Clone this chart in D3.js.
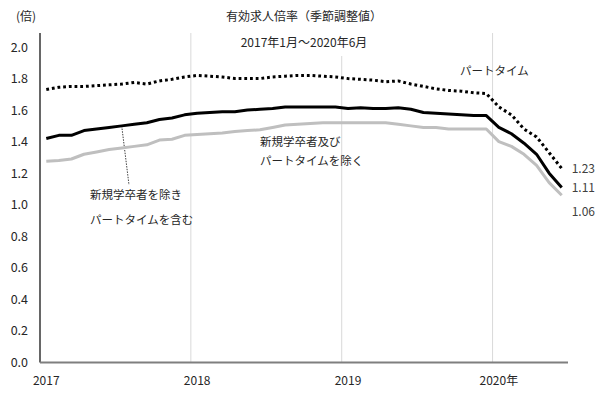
<!DOCTYPE html>
<html><head><meta charset="utf-8">
<script src="https://cdn.jsdelivr.net/npm/d3@7"></script>
<style>
body{margin:0;background:#fff}
svg{display:block}
text{font-family:"Noto Sans CJK JP","Noto Sans",sans-serif}
</style>
</head><body>
<svg id="c" width="600" height="393"></svg>
<script>
// ---- data ----
const months = [
 "2017/1","2017/2","2017/3","2017/4","2017/5","2017/6","2017/7","2017/8","2017/9","2017/10","2017/11","2017/12",
 "2018/1","2018/2","2018/3","2018/4","2018/5","2018/6","2018/7","2018/8","2018/9","2018/10","2018/11","2018/12",
 "2019/1","2019/2","2019/3","2019/4","2019/5","2019/6","2019/7","2019/8","2019/9","2019/10","2019/11","2019/12",
 "2020/1","2020/2","2020/3","2020/4","2020/5","2020/6"];
// パートタイム
const partTime = [
 1.73,1.745,1.75,1.75,1.755,1.76,1.765,1.775,1.765,1.785,1.795,1.81,
 1.82,1.815,1.81,1.80,1.80,1.80,1.81,1.815,1.82,1.82,1.815,1.81,
 1.80,1.795,1.79,1.78,1.785,1.765,1.75,1.735,1.725,1.72,1.71,1.705,
 1.62,1.57,1.48,1.43,1.33,1.23];
// 新規学卒者を除きパートタイムを含む
const total = [
 1.42,1.44,1.44,1.47,1.48,1.49,1.50,1.51,1.52,1.54,1.55,1.57,
 1.58,1.585,1.59,1.59,1.60,1.605,1.61,1.62,1.62,1.62,1.62,1.62,
 1.61,1.615,1.61,1.61,1.615,1.605,1.585,1.58,1.575,1.57,1.565,1.565,
 1.49,1.45,1.39,1.32,1.20,1.11];
// 新規学卒者及びパートタイムを除く
const exclPart = [
 1.275,1.28,1.29,1.32,1.335,1.35,1.36,1.37,1.38,1.41,1.415,1.44,
 1.445,1.45,1.455,1.465,1.47,1.475,1.49,1.505,1.51,1.515,1.52,1.52,
 1.52,1.52,1.52,1.52,1.51,1.50,1.49,1.49,1.48,1.48,1.48,1.48,
 1.40,1.37,1.32,1.25,1.14,1.06];
const yTicks = [0,0.2,0.4,0.6,0.8,1.0,1.2,1.4,1.6,1.8,2.0];
const xTickMonths = ["2017/1","2018/1","2019/1","2020/1"];
const xTickLabels = ["2017","2018","2019","2020年"];
const gridMonths = ["2018/1","2019/1","2020/1"];
const endLabels = ["1.23","1.11","1.06"];

(function(){
// ---- layout ----
const svg = d3.select("#c");
const pL = 40, pR = 568, pT = 33, pB = 362.5;
const x = d3.scaleBand().domain(months).range([pL, pR]).padding(0);
const xc = m => x(m) + x.bandwidth()/2;
const y = d3.scaleLinear().domain([0, 2]).range([pB, 47]);

// vertical gridlines
svg.append("g").selectAll("line").data(gridMonths).join("line")
  .attr("x1", d => x(d)).attr("x2", d => x(d))
  .attr("y1", pT).attr("y2", pB)
  .attr("stroke", "#d9d9d9").attr("stroke-width", 1);

// titles
svg.append("text").attr("x", (pL+pR)/2).attr("y", 21).attr("text-anchor","middle")
  .attr("font-size", 12).attr("fill", "#262626").text("有効求人倍率（季節調整値）");
svg.append("rect").attr("x", 232).attr("y", pT).attr("width", 146).attr("height", 23).attr("fill", "#fff");
svg.append("text").attr("x", (pL+pR)/2).attr("y", 47).attr("text-anchor","middle")
  .attr("font-size", 12).attr("fill", "#262626").text("2017年1月～2020年6月");
svg.append("text").attr("x", 26).attr("y", 21).attr("text-anchor","middle")
  .attr("font-size", 12).attr("fill", "#262626").text("(倍)");

// leader line (under the series)
svg.append("line").attr("x1", xc(months[6])).attr("y1", y(total[6]))
  .attr("x2", 129).attr("y2", 185)
  .attr("stroke", "#404040").attr("stroke-width", 1).attr("stroke-dasharray", "1.5 1.2");

// series
const line = d3.line().x((d,i) => xc(months[i])).y(d => y(d));
svg.append("path").datum(exclPart).attr("d", line).attr("fill","none")
  .attr("stroke", "#bfbfbf").attr("stroke-width", 3).attr("stroke-linejoin","round");
svg.append("path").datum(total).attr("d", line).attr("fill","none")
  .attr("stroke", "#000").attr("stroke-width", 3).attr("stroke-linejoin","round");
svg.append("path").datum(partTime).attr("d", line).attr("fill","none")
  .attr("stroke", "#000").attr("stroke-width", 3).attr("stroke-dasharray","2.8 2.9");

// y axis
const yAxis = d3.axisLeft(y).tickValues(yTicks).tickFormat(d3.format(".1f")).tickSize(0).tickPadding(12);
const gy = svg.append("g").attr("transform", `translate(${pL},0)`).call(yAxis);
gy.select(".domain").remove();
gy.selectAll("text").attr("font-size", 12.5).attr("fill", "#262626")
  .style("font-family", '"Noto Sans CJK JP","Noto Sans",sans-serif');
svg.append("line").attr("x1", pL).attr("x2", pL).attr("y1", pT).attr("y2", pB)
  .attr("stroke", "#000").attr("stroke-width", 1.2);

// x axis
svg.append("line").attr("x1", pL).attr("x2", pR).attr("y1", pB).attr("y2", pB)
  .attr("stroke", "#7f7f7f").attr("stroke-width", 2);
svg.append("g").selectAll("text").data(xTickMonths).join("text")
  .attr("x", d => xc(d)).attr("y", 385).attr("text-anchor","middle")
  .attr("font-size", 12).attr("fill", "#262626")
  .text((d,i) => xTickLabels[i]);

// end labels
const last = months[months.length-1];
const endVals = [partTime[41], total[41], exclPart[41]];
const endShift = [0, 0, 17];
svg.append("g").selectAll("text").data(endLabels).join("text")
  .attr("x", xc(last) + 10).attr("y", (d,i) => y(endVals[i]) + endShift[i])
  .attr("dy", "0.35em").attr("font-size", 12).attr("fill", "#404040")
  .text(d => d);

// annotations
const ann = svg.append("g").attr("font-size", 11.5).attr("fill", "#262626");
ann.append("text").attr("x", 460).attr("y", 75).text("パートタイム");
ann.append("text").attr("x", 260).attr("y", 146).text("新規学卒者及び");
ann.append("text").attr("x", 260).attr("y", 164.5).text("パートタイムを除く");
ann.append("text").attr("x", 90).attr("y", 198.5).text("新規学卒者を除き");
ann.append("text").attr("x", 90).attr("y", 223.5).text("パートタイムを含む");
})();
</script>
</body></html>
